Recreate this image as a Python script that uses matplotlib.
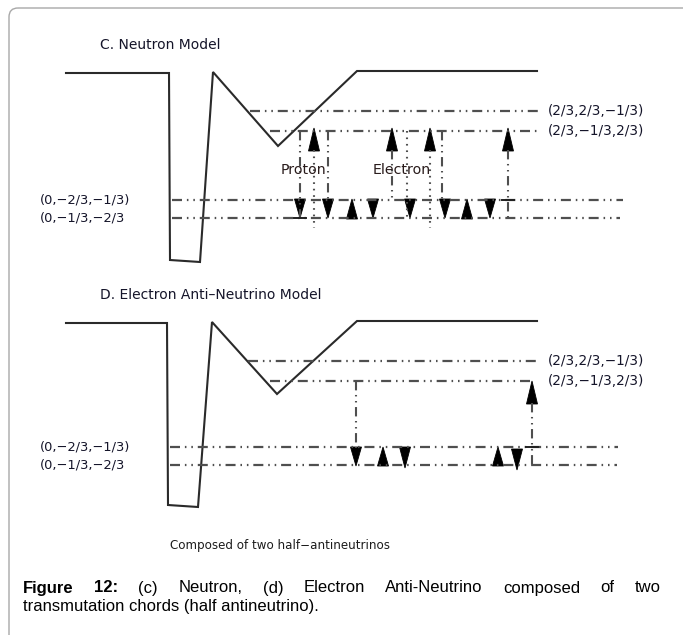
import matplotlib.pyplot as plt
from matplotlib.patches import FancyBboxPatch

# ---------------------------------------------------------------
# diagram data (pixel units, y grows downward)
# ---------------------------------------------------------------
# potential curves
top_pot_x = [66, 169, 170, 200, 213, 278, 357, 537]
top_pot_y = [73, 73, 260, 262, 72, 146, 71, 71]
bot_pot_x = [66, 167, 168, 198, 212, 277, 357, 537]
bot_pot_y = [323, 323, 505, 507, 322, 394, 321, 321]

# energy levels: y, x start, x end
top_level_y = [111, 131, 200, 218]
top_level_x0 = [250, 270, 172, 172]
top_level_x1 = [540, 537, 623, 620]
bot_level_y = [361, 381, 447, 465]
bot_level_x0 = [248, 270, 170, 170]
bot_level_x1 = [540, 530, 618, 617]

right_labels = ["(2/3,2/3,\u22121/3)", "(2/3,\u22121/3,2/3)"]
left_labels = ["(0,\u22122/3,\u22121/3)", "(0,\u22121/3,\u22122/3"]

# arrows: x, tail y, tip y
top_arrow_x = [300, 328, 373, 410, 445, 490, 352, 467, 314, 392, 430, 508]
top_arrow_tail = [199, 199, 199, 199, 199, 199, 219, 219, 151, 151, 151, 151]
top_arrow_tip = [218, 218, 218, 218, 218, 218, 199, 199, 128, 128, 128, 128]
bot_arrow_x = [356, 383, 405, 498, 517, 532]
bot_arrow_tail = [447, 466, 447, 466, 449, 404]
bot_arrow_tip = [466, 447, 468, 447, 470, 381]

# vertical connectors: x, y0, y1, style
top_conn_x = [300, 314, 328, 392, 407, 430, 442, 508]
top_conn_y0 = [131, 150, 131, 150, 131, 150, 131, 150]
top_conn_y1 = [218, 228, 200, 200, 218, 228, 200, 218]
top_conn_style = ["dd", "dot", "dd", "dd", "dot", "dot", "dd", "dd"]
bot_conn_x = [356, 532]
bot_conn_y0 = [381, 403]
bot_conn_y1 = [448, 466]
bot_conn_style = ["dd", "dd"]

# small tee marks: x, y
tee_x = [300, 508, 532]
tee_y = [218, 200, 447]

W, H = 683, 635
fig = plt.figure(figsize=(W / 100, H / 100), dpi=100)
ax = fig.add_axes([0, 0, 1, 1])
ax.set_xlim(0, W)
ax.set_ylim(H, 0)
ax.axis("off")

frame = FancyBboxPatch((9, 8), 760, 700, boxstyle="round,pad=0,rounding_size=9",
                       fc="none", ec="#a8a8a8", lw=1.0)
ax.add_patch(frame)

DD = (0, (4.5, 2.2, 0.7, 2.2, 0.7, 2.2))
DOT = (0, (0.8, 2.3))
line_col = "#4f4f4f"
txt_col = "#15152a"
fnt = "DejaVu Sans"


def draw_panel(px, py, ly, lx0, lx1, ax_x, ax_t, ax_p, cx, cy0, cy1, cs):
    ax.plot(px, py, color="#2a2a2a", lw=1.5, solid_joinstyle="miter")
    for y, x0, x1 in zip(ly, lx0, lx1):
        ax.plot([x0, x1], [y, y], color=line_col, lw=1.6, linestyle=DD)
    for x, y0, y1, s in zip(cx, cy0, cy1, cs):
        ax.plot([x, x], [y0, y1], color=line_col, lw=1.5,
                linestyle=DD if s == "dd" else DOT)
    for x, t, p in zip(ax_x, ax_t, ax_p):
        ax.fill([x - 5.5, x + 5.5, x], [t, t, p], color="black", lw=0.6)
    for i, lab in enumerate(right_labels):
        ax.text(548, ly[i], lab, fontsize=9.8, family=fnt, color=txt_col, va="center")
    for i, lab in enumerate(left_labels):
        ax.text(40, ly[i + 2], lab, fontsize=9.4, family=fnt, color=txt_col, va="center")


draw_panel(top_pot_x, top_pot_y, top_level_y, top_level_x0, top_level_x1,
           top_arrow_x, top_arrow_tail, top_arrow_tip,
           top_conn_x, top_conn_y0, top_conn_y1, top_conn_style)
draw_panel(bot_pot_x, bot_pot_y, bot_level_y, bot_level_x0, bot_level_x1,
           bot_arrow_x, bot_arrow_tail, bot_arrow_tip,
           bot_conn_x, bot_conn_y0, bot_conn_y1, bot_conn_style)

for x, y in zip(tee_x, tee_y):
    ax.plot([x - 6, x + 6], [y, y], color="#202020", lw=1.4)

ax.text(100, 45, "C. Neutron Model", fontsize=10, family=fnt, color=txt_col, va="center")
ax.text(100, 295, "D. Electron Anti\u2013Neutrino Model", fontsize=10, family=fnt,
        color=txt_col, va="center")
ax.text(303, 170, "Proton", fontsize=10.2, family=fnt, color="#2a1c1c", va="center", ha="center")
ax.text(402, 170, "Electron", fontsize=10.2, family=fnt, color="#2a1c1c", va="center", ha="center")
ax.text(170, 546, "Composed of two half\u2212antineutrinos", fontsize=8.6, family=fnt,
        color="#1c1c1c", va="center")

# caption, first line justified between x0 and x1
cap_font = "Liberation Sans"
cap_size = 12
cap_x0, cap_x1 = 23, 661
words = ["Figure", "12:", "(c)", "Neutron,", "(d)", "Electron", "Anti-Neutrino",
         "composed", "of", "two"]
bold = [True, True] + [False] * 8
fig.canvas.draw()
renderer = fig.canvas.get_renderer()
inv = ax.transData.inverted()
widths = []
for w, b in zip(words, bold):
    t = ax.text(0, 0, w, fontsize=cap_size, family=cap_font,
                fontweight="bold" if b else "normal")
    bb = t.get_window_extent(renderer)
    x0 = inv.transform((bb.x0, 0))[0]
    x1 = inv.transform((bb.x1, 0))[0]
    widths.append(x1 - x0)
    t.remove()
gap = (cap_x1 - cap_x0 - sum(widths)) / (len(words) - 1)
x = cap_x0
for w, b, wd in zip(words, bold, widths):
    ax.text(x, 588, w, fontsize=cap_size, family=cap_font,
            fontweight="bold" if b else "normal", va="center", color="black")
    x += wd + gap
ax.text(cap_x0, 607, "transmutation chords (half antineutrino).", fontsize=cap_size,
        family=cap_font, va="center", color="black")

fig.savefig("out.png", dpi=100)
